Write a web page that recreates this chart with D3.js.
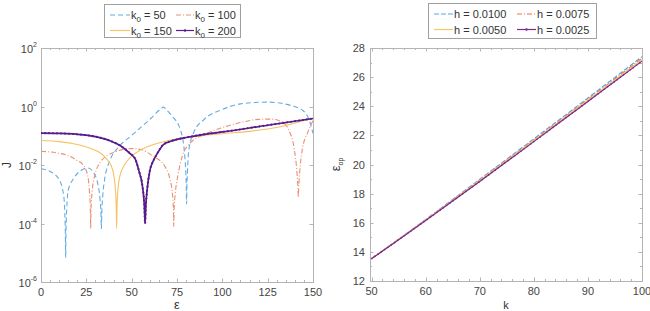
<!DOCTYPE html>
<html><head><meta charset="utf-8">
<script src="https://cdn.jsdelivr.net/npm/d3@7"></script>
<style>body{margin:0;background:#fff}svg{font-family:"Liberation Sans",Arial,sans-serif}</style>
</head><body><svg id="c" width="650" height="311"></svg>
<script>
const epsK50 = [0,5,10,12.5,13.1,13.45,13.6,13.75,14.2,15,18,22,26,29,31.5,32.6,33.1,33.3,33.5,34,35,38,43,50,60,66.5,67.5,68.5,72,77,79,79.8,80.15,80.3,80.45,80.8,81.5,84,90,100,110,125,138,145,148,150];
const logJK50 = [-2.13,-2.22,-2.5,-3.04,-3.6,-4.4,-5.17,-4.4,-3.5,-2.87,-2.46,-2.19,-2.1,-2.26,-2.7,-3.2,-3.7,-4.18,-3.7,-3.1,-2.53,-1.85,-1.37,-0.99,-0.44,-0.06,-0.02,-0.07,-0.31,-0.82,-1.5,-2.2,-2.8,-3.33,-2.8,-2.2,-1.5,-0.92,-0.44,-0.1,0.09,0.15,0.03,-0.17,-0.48,-0.92];

const epsK100 = [0,10,15,20,23,25.5,26.7,27.2,27.4,27.6,28.2,29.5,33,40,50,55,62,68,71,72.5,73,73.2,73.4,74,75.5,78,82,90,100,110,120,127,133,137,139.5,141.2,141.7,141.9,142.1,142.6,144,147,150];
const logJK100 = [-1.53,-1.6,-1.68,-1.85,-1.98,-2.3,-2.9,-3.5,-4.17,-3.5,-2.9,-2.4,-1.88,-1.57,-1.44,-1.47,-1.71,-2.02,-2.46,-3.0,-3.5,-4.1,-3.5,-3.0,-2.36,-1.68,-1.27,-0.96,-0.72,-0.55,-0.44,-0.43,-0.53,-0.85,-1.4,-2.3,-2.8,-3.1,-2.8,-2.3,-1.5,-0.9,-0.48];

const epsK150 = [0,10,20,28,33,36,38.5,40,41,41.5,41.7,41.9,42.5,43.5,46,50,55,62,70,80,90,100,115,125,135,142,150];
const logJK150 = [-1.16,-1.2,-1.3,-1.45,-1.6,-1.78,-2.0,-2.3,-2.8,-3.5,-4.17,-3.5,-2.8,-2.38,-2.0,-1.7,-1.48,-1.3,-1.17,-1.07,-0.99,-0.93,-0.85,-0.77,-0.65,-0.53,-0.41];

const epsK200 = [0,10,20,30,38,44,49,52,54,56,57,57.4,57.8,58.5,60,62,64,67.5,72,80,90,100,125,150];
const logJK200 = [-0.91,-0.92,-0.95,-1.03,-1.17,-1.35,-1.6,-1.8,-2.2,-2.75,-3.4,-4.0,-3.4,-2.87,-2.2,-1.85,-1.62,-1.3,-1.18,-1.06,-0.95,-0.87,-0.64,-0.41];

const leftXTicks = [0,25,50,75,100,125,150];
const leftYTickExps = [2,0,-2,-4,-6];
const leftLegend = ["50","100","150","200"];

// ---------- Right panel data ----------
const kVals = [50,55,60,65,70,75,80,85,90,95,100];
const epsH0100 = [13.55,14.87,16.22,17.6,18.98,20.37,21.76,23.16,24.57,25.98,27.4];
const epsH0075 = [13.55,14.86,16.2,17.56,18.93,20.31,21.69,23.08,24.48,25.88,27.3];
const epsH0050 = [13.54,14.85,16.18,17.53,18.9,20.27,21.65,23.03,24.42,25.81,27.2];
const epsH0025 = [13.53,14.83,16.15,17.49,18.84,20.2,21.57,22.95,24.33,25.71,27.1];
const rightXTicks = [50,60,70,80,90,100];
const rightYTicks = [12,14,16,18,20,22,24,26,28];
const rightLegend = ["0.0100","0.0075","0.0050","0.0025"];

const svg = d3.select("#c");
const AX = "#b4b4b4", TXT = "#454545";

const stylesL = [
  {c:"#62ace2", w:1.1, d:"5,3"},
  {c:"#eb8f73", w:1.1, d:"5,2,1,2"},
  {c:"#f6c263", w:1.1, d:null},
  {c:"#5a1a8c", w:1.7, d:null, dot:true}
];
const stylesR = [
  {c:"#4fa9e6", w:1.2, d:"5,2"},
  {c:"#ec7444", w:1.2, d:"5,2,1,2"},
  {c:"#f8c56a", w:1.2, d:null},
  {c:"#7a2b8f", w:1.2, d:null, dot:true}
];

function frame(id, b, x, y, xt, xminor, yt, yminor){
  const g = svg.append("g");
  g.append("defs").append("clipPath").attr("id",id).append("rect")
    .attr("x",b.x0).attr("y",b.y0).attr("width",b.x1-b.x0).attr("height",b.y1-b.y0);
  const tk = g.append("g").attr("stroke",AX).attr("stroke-width",1);
  xminor.forEach(v=>{const px=Math.round(x(v))+0.5;
    tk.append("line").attr("x1",px).attr("x2",px).attr("y1",b.y1).attr("y2",b.y1-2);
    tk.append("line").attr("x1",px).attr("x2",px).attr("y1",b.y0).attr("y2",b.y0+2);});
  xt.forEach(v=>{const px=Math.round(x(v))+0.5;
    tk.append("line").attr("x1",px).attr("x2",px).attr("y1",b.y1).attr("y2",b.y1-3.5);
    tk.append("line").attr("x1",px).attr("x2",px).attr("y1",b.y0).attr("y2",b.y0+3.5);});
  yminor.forEach(v=>{const py=Math.round(y(v))+0.5;
    tk.append("line").attr("y1",py).attr("y2",py).attr("x1",b.x0).attr("x2",b.x0+2);
    tk.append("line").attr("y1",py).attr("y2",py).attr("x1",b.x1).attr("x2",b.x1-2);});
  yt.forEach(v=>{const py=Math.round(y(v))+0.5;
    tk.append("line").attr("y1",py).attr("y2",py).attr("x1",b.x0).attr("x2",b.x0+3.5);
    tk.append("line").attr("y1",py).attr("y2",py).attr("x1",b.x1).attr("x2",b.x1-3.5);});
  g.append("rect").attr("x",b.x0+0.5).attr("y",b.y0+0.5).attr("width",b.x1-b.x0).attr("height",b.y1-b.y0)
    .attr("fill","none").attr("stroke",AX);
  g.selectAll(".xl").data(xt).enter().append("text").attr("x",d=>x(d)).attr("y",b.y1+14)
    .attr("text-anchor","middle").attr("font-size",11).attr("fill",TXT).text(d=>d);
  return g;
}

function drawLine(id, x, y, xs, ys, st, curve){
  const pts = xs.map((v,i)=>[v,ys[i]]);
  const ln = d3.line().x(d=>x(d[0])).y(d=>y(d[1])).curve(curve);
  const p = svg.append("path").attr("clip-path",`url(#${id})`).attr("d",ln(pts))
    .attr("fill","none").attr("stroke",st.c).attr("stroke-width",st.w).attr("stroke-linejoin","round");
  if(st.d) p.attr("stroke-dasharray",st.d);
  if(st.dot){
    const node=p.node(), L=node.getTotalLength();
    const dg=svg.append("g").attr("clip-path",`url(#${id})`);
    for(let s=0;s<L;s+=4){const q=node.getPointAtLength(s);
      dg.append("circle").attr("cx",q.x).attr("cy",q.y).attr("r",st.w*0.55+0.15).attr("fill",st.c);}
  }
}

function legend(bx, by, bw, bh, items, styles, cols){
  svg.append("rect").attr("x",bx+0.5).attr("y",by+0.5).attr("width",bw).attr("height",bh)
    .attr("fill","#fff").attr("stroke","#a0a0a0");
  items.forEach((it,i)=>{
    const c=cols[i%2], ry=by+ (i<2?11:26.5);
    const st=styles[i];
    const l=svg.append("line").attr("x1",c.sx).attr("x2",c.sx+c.sw).attr("y1",ry).attr("y2",ry)
      .attr("stroke",st.c).attr("stroke-width",Math.min(st.w,1.2));
    if(st.d) l.attr("stroke-dasharray",st.d);
    if(st.dot) svg.append("circle").attr("cx",c.sx+c.sw/2).attr("cy",ry).attr("r",1.2).attr("fill",st.c);
    it(svg.append("text").attr("x",c.sx+c.sw+1).attr("y",ry+4).attr("font-size",11).attr("fill","#333"));
  });
}

// ---------- Left panel ----------
const bL = {x0:41,x1:313,y0:48,y1:282};
const xL = d3.scaleLinear().domain([0,150]).range([bL.x0,bL.x1]);
const yL = d3.scaleLog().domain([1e-6,1e2]).range([bL.y1,bL.y0]);
const yTickVals = leftYTickExps.map(e=>Math.pow(10,e));
frame("clipL", bL, xL, yL, leftXTicks, d3.range(0,151,5), yTickVals, []);
leftYTickExps.forEach(e=>{
  const t=svg.append("text").attr("x",bL.x0-4).attr("y",yL(Math.pow(10,e))+5).attr("text-anchor","end")
    .attr("font-size",11).attr("fill",TXT);
  t.append("tspan").text("10");
  t.append("tspan").attr("dy",-6).attr("font-size",7).text(e<0?"-"+(-e):String(e));
});
const leftSeries = [[epsK50,logJK50],[epsK100,logJK100],[epsK150,logJK150],[epsK200,logJK200]];
leftSeries.forEach((s,i)=>drawLine("clipL", xL, yL, s[0], s[1].map(v=>Math.pow(10,v)), stylesL[i], d3.curveMonotoneX));
svg.append("text").attr("transform",`translate(11,${(bL.y0+bL.y1)/2}) rotate(-90)`).attr("text-anchor","middle")
  .attr("font-size",12).attr("fill","#333").text("J");
svg.append("text").attr("x",(bL.x0+bL.x1)/2).attr("y",309).attr("text-anchor","middle")
  .attr("font-size",13).attr("fill","#333").text("ε");
legend(104,4,136,33, leftLegend.map(v=>t=>{t.append("tspan").text("k");t.append("tspan").attr("dy",3).attr("font-size",8).text("0");t.append("tspan").attr("dy",-3).text(" = "+v);}), stylesL,
  [{sx:110,sw:20},{sx:176,sw:18}]);

// ---------- Right panel ----------
const bR = {x0:370,x1:642,y0:48,y1:281};
const xR = d3.scaleLinear().domain([49.7,100]).range([bR.x0,bR.x1]);
const yR = d3.scaleLinear().domain([12,28]).range([bR.y1,bR.y0]);
frame("clipR", bR, xR, yR, rightXTicks, d3.range(50,101,2), rightYTicks, d3.range(12,29,1));
rightYTicks.forEach(v=>svg.append("text").attr("x",bR.x0-5).attr("y",yR(v)+4).attr("text-anchor","end")
  .attr("font-size",11).attr("fill",TXT).text(v));
const rightSeries=[epsH0100,epsH0075,epsH0050,epsH0025];
rightSeries.forEach((s,i)=>drawLine("clipR", xR, yR, kVals, s, stylesR[i], d3.curveMonotoneX));
const yl=svg.append("text").attr("transform",`translate(340,${(bR.y0+bR.y1)/2}) rotate(-90)`).attr("text-anchor","middle")
  .attr("font-size",13).attr("fill","#333");
yl.append("tspan").text("ε");
yl.append("tspan").attr("dy",3).attr("font-size",7).text("op");
svg.append("text").attr("x",(bR.x0+bR.x1)/2).attr("y",309).attr("text-anchor","middle")
  .attr("font-size",11).attr("fill","#333").text("k");
legend(428,3,168,35, rightLegend.map(v=>t=>t.text("h = "+v)), stylesR,
  [{sx:434,sw:19},{sx:517,sw:19}]);
</script></body></html>
